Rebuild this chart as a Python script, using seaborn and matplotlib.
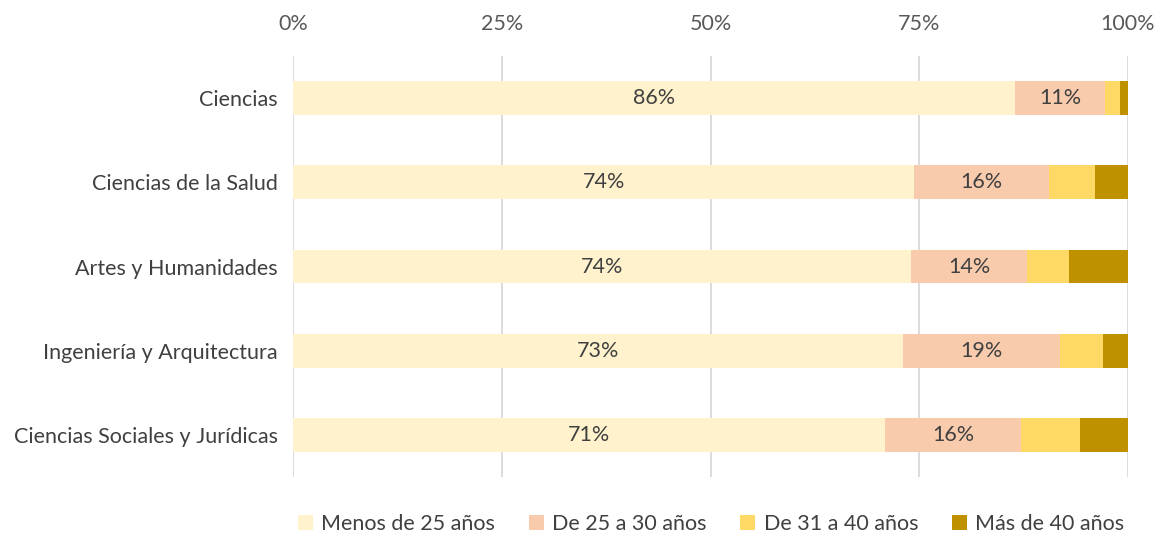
import numpy as np
import pandas as pd
import matplotlib
matplotlib.use("Agg")
import matplotlib.pyplot as plt
from matplotlib.patches import Patch
import seaborn as sns

# Data (percent of students by age group)
areas = ['Ciencias', 'Ciencias de la Salud', 'Artes y Humanidades',
         'Ingeniería y Arquitectura', 'Ciencias Sociales y Jurídicas']
groups = ['Menos de 25 años', 'De 25 a 30 años', 'De 31 a 40 años', 'Más de 40 años']
menos_25 = [86.5, 74.4, 74.0, 73.0, 70.9]
de_25_30 = [10.7, 16.1, 13.9, 18.9, 16.3]
de_31_40 = [1.8, 5.6, 5.0, 5.1, 7.0]
mas_40 = [1.0, 3.9, 7.1, 3.0, 5.8]
colors = ['#FFF2CC', '#F8CBAD', '#FFD966', '#BF9000']

sns.set_theme(style="white")
plt.rcParams['font.family'] = ['Lato', 'DejaVu Sans']

df = pd.DataFrame({'area': areas, groups[0]: menos_25, groups[1]: de_25_30,
                   groups[2]: de_31_40, groups[3]: mas_40})
cum = df[groups].cumsum(axis=1)

fig = plt.figure(figsize=(11.6, 5.35), dpi=100)
ax = fig.add_axes([0.2526, 0.1084, 0.7198, 0.7869])

# draw stacked bars as layered cumulative bars, widest first
for g, c in reversed(list(zip(groups, colors))):
    sns.barplot(x=cum[g], y=df['area'], orient='h', color=c, width=0.4,
                linewidth=0, saturation=1, ax=ax)

# labels for the two first segments
for i in range(len(areas)):
    left = 0
    for g in groups[:2]:
        v = df.loc[i, g]
        ax.text(left + v / 2, i, f"{round(v):.0f}%", ha='center', va='center',
                fontsize=15.5, color='#404040')
        left += v

ax.set_xlim(0, 100)
ax.set_ylim(4.5, -0.5)
ax.set_xticks([0, 25, 50, 75, 100])
ax.set_xticklabels(['0%', '25%', '50%', '75%', '100%'])
ax.xaxis.tick_top()
ax.tick_params(axis='x', labelsize=15.5, colors='#595959', length=0, pad=16)
ax.tick_params(axis='y', labelsize=15.5, colors='#404040', length=0, pad=11)
ax.set_xlabel('')
ax.set_ylabel('')
ax.grid(axis='x', color='#D9D9D9', linewidth=1.3)
ax.set_axisbelow(True)
for s in ax.spines.values():
    s.set_visible(False)

handles = [Patch(facecolor=c, edgecolor='none') for c in colors]
fig.legend(handles, groups, loc='lower center', bbox_to_anchor=(0.613, -0.035),
           ncol=4, frameon=False, fontsize=15.5, handlelength=0.7, handleheight=0.7,
           handletextpad=0.4, columnspacing=1.55, labelcolor='#404040')

fig.savefig('out.png', dpi=100)
